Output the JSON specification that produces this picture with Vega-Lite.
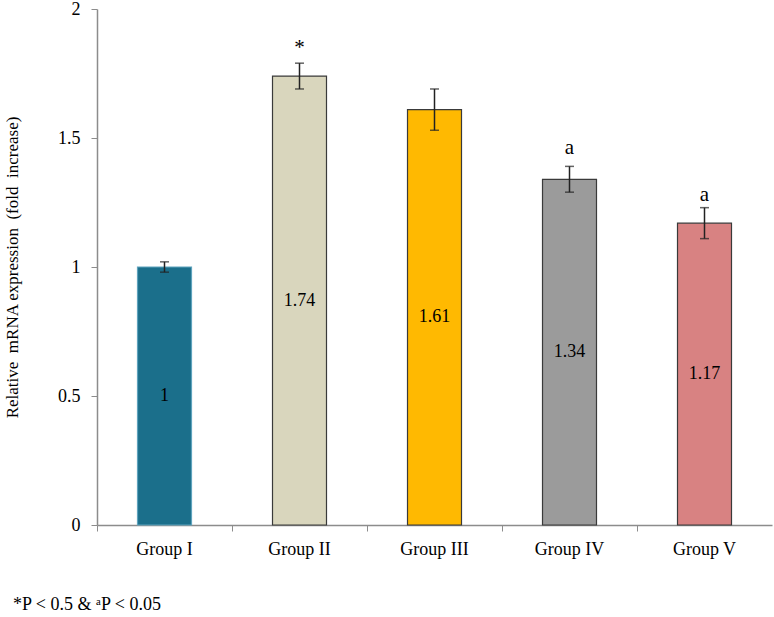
{
  "$schema": "https://vega.github.io/schema/vega-lite/v6.json",
  "width": 675,
  "height": 516,
  "autosize": {"type": "none"},
  "padding": {"left": 97, "top": 9, "right": 2, "bottom": 92},
  "background": "white",
  "title": {
    "text": "*P < 0.5 & ᵃP < 0.05",
    "orient": "bottom",
    "anchor": "start",
    "frame": "group",
    "dx": -84,
    "offset": 38,
    "font": "Liberation Serif",
    "fontSize": 18,
    "fontWeight": "normal",
    "color": "#000"
  },
  "config": {
    "view": {"stroke": null},
    "font": "Liberation Serif",
    "axis": {"grid": false, "domainColor": "#8c8c8c", "tickColor": "#8c8c8c", "labelColor": "#000", "labelFont": "Liberation Serif", "titleFont": "Liberation Serif"}
  },
  "data": {
    "values": [
      {"group": "Group I", "value": 1.0, "label": "1", "lo": 0.98, "hi": 1.02, "sig": "", "sigPos": 1.1},
      {"group": "Group II", "value": 1.74, "label": "1.74", "lo": 1.69, "hi": 1.79, "sig": "*", "sigPos": 1.85},
      {"group": "Group III", "value": 1.61, "label": "1.61", "lo": 1.53, "hi": 1.69, "sig": "", "sigPos": 1.75},
      {"group": "Group IV", "value": 1.34, "label": "1.34", "lo": 1.29, "hi": 1.39, "sig": "a", "sigPos": 1.46},
      {"group": "Group V", "value": 1.17, "label": "1.17", "lo": 1.11, "hi": 1.23, "sig": "a", "sigPos": 1.28}
    ]
  },
  "encoding": {
    "x": {
      "field": "group",
      "type": "nominal",
      "sort": null,
      "scale": {"paddingInner": 0, "paddingOuter": 0},
      "axis": {"title": null, "labelAngle": 0, "labelFontSize": 18, "tickSize": 6, "labelPadding": 9, "bandPosition": 0, "domainWidth": 1.5}
    }
  },
  "layer": [
    {
      "mark": {"type": "bar", "width": {"band": 0.4}, "strokeWidth": 1.2},
      "encoding": {
        "y": {
          "field": "value",
          "type": "quantitative",
          "scale": {"domain": [0, 2], "nice": false},
          "axis": {"values": [0, 0.5, 1, 1.5, 2], "format": "~g", "title": "Relative\u00a0 mRNA expression\u00a0 (fold\u00a0 increase)", "titleFontSize": 17, "titleFontWeight": "normal", "titlePadding": 36, "labelFontSize": 18, "tickSize": 6, "labelPadding": 11, "domainWidth": 1.5}
        },
        "fill": {
          "field": "group",
          "type": "nominal",
          "sort": null,
          "scale": {"range": ["#1b6f8b", "#d9d6bd", "#ffb901", "#9b9b9b", "#d88282"]},
          "legend": null
        },
        "stroke": {
          "field": "group",
          "type": "nominal",
          "sort": null,
          "scale": {"range": ["#5fa3bd", "#3a3a3a", "#3a3a3a", "#3a3a3a", "#3a3a3a"]},
          "legend": null
        }
      }
    },
    {
      "mark": {"type": "rule", "color": "#222", "strokeWidth": 1.5},
      "encoding": {
        "y": {"field": "lo", "type": "quantitative"},
        "y2": {"field": "hi"}
      }
    },
    {
      "mark": {"type": "tick", "color": "#222", "size": 9, "thickness": 1.5},
      "encoding": {"y": {"field": "lo", "type": "quantitative"}}
    },
    {
      "mark": {"type": "tick", "color": "#222", "size": 9, "thickness": 1.5},
      "encoding": {"y": {"field": "hi", "type": "quantitative"}}
    },
    {
      "transform": [{"calculate": "datum.value / 2", "as": "mid"}],
      "mark": {"type": "text", "fontSize": 18, "baseline": "middle", "color": "#000", "font": "Liberation Serif"},
      "encoding": {
        "y": {"field": "mid", "type": "quantitative"},
        "text": {"field": "label"}
      }
    },
    {
      "mark": {"type": "text", "fontSize": 21, "baseline": "middle", "color": "#000", "font": "Liberation Serif"},
      "encoding": {
        "y": {"field": "sigPos", "type": "quantitative"},
        "text": {"field": "sig"}
      }
    }
  ]
}
